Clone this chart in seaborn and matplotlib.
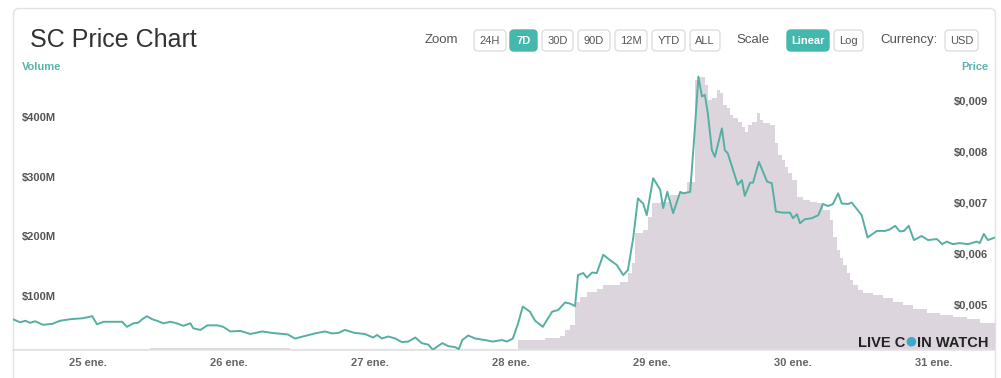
import matplotlib
matplotlib.use('Agg')
import matplotlib.pyplot as plt
import matplotlib.transforms as mtransforms
from matplotlib.patches import FancyBboxPatch, Circle
import seaborn as sns

# DATA (hours after 25 ene. 00:00)
price_hours = [-12.8, -11.6, -10.7, -9.9, -9.0, -7.7, -6.1, -4.8, -3.1, -1.9,
               -0.9, 0.7, 1.5, 2.6, 3.4, 4.9, 5.8, 6.6, 7.7, 8.5,
               9.2, 10.0, 10.9, 11.7, 12.8, 14.0, 15.1, 16.2, 17.4, 17.9,
               19.1, 20.3, 22.0, 23.0, 24.2, 25.9, 27.6, 28.9, 29.6, 31.3,
               33.0, 34.0, 35.2, 36.9, 38.6, 40.3, 41.5, 42.6, 43.7, 45.4,
               47.1, 48.5, 49.2, 50.0, 51.1, 52.3, 53.4, 54.5, 55.7, 56.8,
               57.9, 58.7, 60.3, 61.3, 62.5, 63.1, 63.7, 64.7, 65.9, 67.6,
               68.8, 70.5, 71.3, 72.3, 73.2, 74.0, 75.2, 76.1, 77.4, 79.0,
               80.0, 81.2, 82.0, 82.9, 83.4, 84.3, 84.9, 85.8, 86.6, 87.7,
               88.8, 90.0, 91.1, 91.9, 92.8, 93.6, 94.5, 95.1, 96.2, 97.4,
               97.9, 98.6, 99.6, 100.8, 101.3, 102.5, 103.2, 103.9, 104.5, 105.0,
               105.5, 106.2, 106.7, 107.9, 108.4, 108.9, 109.8, 110.6, 111.3, 111.8,
               112.7, 113.2, 114.2, 115.6, 116.4, 117.1, 118.3, 119.5, 120.0, 120.7,
               121.2, 122.0, 123.2, 124.3, 125.1, 126.0, 126.8, 127.7, 128.3, 129.4,
               130.0, 131.7, 132.7, 134.3, 135.7, 136.5, 137.4, 138.2, 138.9, 139.7,
               140.6, 141.9, 143.0, 144.5, 145.4, 146.2, 147.2, 148.4, 149.8, 151.3,
               151.8, 152.5, 153.2, 154.4]
price_usd = [0.00470, 0.00464, 0.00467, 0.00463, 0.00466, 0.00459, 0.00461, 0.00467, 0.00470, 0.00471,
             0.00472, 0.00476, 0.00460, 0.00465, 0.00465, 0.00465, 0.00465, 0.00455, 0.00462, 0.00463,
             0.00470, 0.00476, 0.00470, 0.00467, 0.00462, 0.00465, 0.00462, 0.00457, 0.00462, 0.00452,
             0.00449, 0.00458, 0.00458, 0.00455, 0.00446, 0.00447, 0.00441, 0.00444, 0.00446, 0.00443,
             0.00441, 0.00440, 0.00432, 0.00437, 0.00442, 0.00446, 0.00442, 0.00443, 0.00449, 0.00443,
             0.00441, 0.00434, 0.00439, 0.00432, 0.00436, 0.00432, 0.00425, 0.00426, 0.00434, 0.00423,
             0.00420, 0.00410, 0.00423, 0.00417, 0.00415, 0.00411, 0.00429, 0.00438, 0.00432, 0.00429,
             0.00426, 0.00429, 0.00426, 0.00432, 0.00462, 0.00495, 0.00485, 0.00467, 0.00455, 0.00485,
             0.00488, 0.00503, 0.00501, 0.00496, 0.00557, 0.00561, 0.00552, 0.00562, 0.00561, 0.00597,
             0.00587, 0.00577, 0.00557, 0.00567, 0.00630, 0.00708, 0.00698, 0.00675, 0.00748, 0.00725,
             0.00689, 0.00721, 0.00679, 0.00721, 0.00718, 0.00721, 0.00830, 0.00948, 0.00909, 0.00912,
             0.00876, 0.00803, 0.00790, 0.00846, 0.00803, 0.00797, 0.00764, 0.00735, 0.00744, 0.00713,
             0.00739, 0.00739, 0.00780, 0.00741, 0.00738, 0.00682, 0.00680, 0.00680, 0.00669, 0.00677,
             0.00659, 0.00667, 0.00669, 0.00675, 0.00697, 0.00693, 0.00697, 0.00718, 0.00698, 0.00697,
             0.00700, 0.00675, 0.00631, 0.00644, 0.00644, 0.00647, 0.00654, 0.00643, 0.00644, 0.00654,
             0.00626, 0.00634, 0.00626, 0.00628, 0.00618, 0.00623, 0.00618, 0.00620, 0.00618, 0.00623,
             0.00620, 0.00638, 0.00626, 0.00631]

volume_hours = [-12.8, 10.6, 34.4, 73.2, 77.8, 80.3, 81.2, 82.0, 82.9, 83.7,
                84.9, 86.6, 87.7, 90.6, 91.9, 92.6, 93.1, 94.5, 95.3, 96.0,
                97.4, 99.1, 100.8, 102.0, 103.3, 103.8, 105.0, 105.5, 106.2, 107.1,
                107.6, 108.1, 108.8, 109.3, 109.8, 110.6, 111.3, 111.8, 112.3, 113.0,
                113.9, 114.4, 114.9, 116.1, 116.9, 117.4, 118.1, 118.6, 119.1, 119.8,
                120.7, 121.7, 122.9, 124.1, 125.1, 126.3, 126.8, 127.5, 128.0, 128.5,
                129.2, 129.7, 130.2, 131.1, 131.9, 133.6, 135.3, 137.0, 138.7, 140.4,
                142.8, 145.0, 147.2, 149.6, 151.8, 154.4]
volume_musd = [2, 3.5, 2, 16, 20, 23.5, 33.5, 42, 81, 89,
               98, 103, 109, 114, 128.5, 145, 195.6, 201, 223, 246,
               248.5, 260, 265, 282, 452, 458, 444, 419, 422, 435,
               431, 411, 406, 394, 389, 383, 374, 366, 377, 383,
               397, 385.5, 380, 377, 347, 327, 318, 307, 297, 285,
               257, 251, 248.5, 246, 235, 218, 190, 168, 154, 142,
               129, 117, 109, 100.5, 96, 92, 87, 81, 75, 68,
               62.5, 58.7, 56, 51.5, 46, 46]

day_ticks = [0, 24, 48, 72, 96, 120, 144]
day_labels = ['25 ene.', '26 ene.', '27 ene.', '28 ene.', '29 ene.', '30 ene.', '31 ene.']
vol_ticks = [100, 200, 300, 400]
vol_labels = ['$100M', '$200M', '$300M', '$400M']
price_ticks = [0.005, 0.006, 0.007, 0.008, 0.009]
price_labels = ['$0,005', '$0,006', '$0,007', '$0,008', '$0,009']
zoom_buttons = ['24H', '7D', '30D', '90D', '12M', 'YTD', 'ALL']
scale_buttons = ['Linear', 'Log']

# STYLE
sns.set_style('white')
plt.rcParams['font.family'] = ['Liberation Sans', 'DejaVu Sans']

teal = '#56afa3'
btn_teal = '#45b8ae'
area_color = '#dcd5dd'
label_gray = '#555555'

W, H = 1001, 378
fig = plt.figure(figsize=(W / 100, H / 100), dpi=100)
pix = mtransforms.IdentityTransform()


def fx(px):
    return px / W


def fy(py):
    return 1 - py / H


# card outline (behind everything)
card = FancyBboxPatch((13.5, -20), 982, 20 + H - 8.5, boxstyle='round,pad=0,rounding_size=6',
                      transform=pix, facecolor='white',
                      edgecolor='#e2e2e2', linewidth=1, zorder=-5)
fig.patches.append(card)

ax = fig.add_axes([fx(13), fy(350), fx(995) - fx(13), fy(72) - fy(350)])
ax.patch.set_alpha(0)
ax2 = ax.twinx()

# volume area
ax.fill_between(volume_hours, volume_musd, step='post', color=area_color, linewidth=0)
ax.set_ylim(0, 466)
ax.set_xlim(-12.8, 154.4)

# price line
sns.lineplot(x=price_hours, y=price_usd, ax=ax2, color=teal, linewidth=1.4)
ax2.set_ylim(0.004094, 0.009571)

for a in (ax, ax2):
    for s in a.spines.values():
        s.set_visible(False)
ax.spines['bottom'].set_visible(True)
ax.spines['bottom'].set_color('#e3e3e3')
ax.spines['bottom'].set_linewidth(1.2)

ax.set_xticks(day_ticks, day_labels)
ax.tick_params(axis='x', length=0, pad=6, labelsize=8, labelcolor='#666666')
for lab in ax.get_xticklabels():
    lab.set_fontweight('bold')

ax.set_yticks(vol_ticks, vol_labels)
ax.tick_params(axis='y', length=0, pad=-6.5, labelsize=8, labelcolor=label_gray)
shift = mtransforms.ScaledTranslation(0, -5.5 / 100, fig.dpi_scale_trans)
for t in ax.yaxis.get_major_ticks():
    t.label1.set_horizontalalignment('left')
    t.label1.set_fontweight('bold')
    t.label1.set_transform(t.label1.get_transform() + shift)

ax2.set_yticks(price_ticks, price_labels)
ax2.tick_params(axis='y', length=0, pad=-5, labelsize=8, labelcolor=label_gray)
for t in ax2.yaxis.get_major_ticks():
    t.label2.set_horizontalalignment('right')
    t.label2.set_fontweight('bold')
ax.set_xlabel('')
ax.set_ylabel('')
ax2.set_ylabel('')
ax.grid(False)
ax2.grid(False)

# header
fig.text(fx(30), fy(40), 'SC Price Chart', fontsize=18, color='#333333', ha='left', va='center')
fig.text(fx(22), fy(67), 'Volume', fontsize=8, fontweight='bold', color='#5ab5ad', ha='left', va='center')
fig.text(fx(988), fy(67), 'Price', fontsize=8, fontweight='bold', color='#5ab5ad', ha='right', va='center')

fig.text(fx(441), fy(40), 'Zoom', fontsize=9.5, color=label_gray, ha='center', va='center')
fig.text(fx(753), fy(40), 'Scale', fontsize=9.5, color=label_gray, ha='center', va='center')
fig.text(fx(909), fy(40), 'Currency:', fontsize=9.5, color=label_gray, ha='center', va='center')


def button(x0, x1, label, active=False):
    box = FancyBboxPatch((x0, H - 51), x1 - x0, 21, boxstyle='round,pad=0,rounding_size=4',
                         transform=pix,
                         facecolor=btn_teal if active else 'white',
                         edgecolor=btn_teal if active else '#dedede', linewidth=1)
    fig.patches.append(box)
    fig.text(fx((x0 + x1) / 2), fy(40.5), label, fontsize=8,
             fontweight='bold' if active else 'normal',
             color='white' if active else label_gray, ha='center', va='center')


zoom_spans = [(474, 506), (510, 537), (542, 573), (578, 610), (615, 647), (652, 685), (690, 720)]
for (x0, x1), lab in zip(zoom_spans, zoom_buttons):
    button(x0, x1, lab, active=(lab == '7D'))
for (x0, x1), lab in zip([(787, 829), (834, 863)], scale_buttons):
    button(x0, x1, lab, active=(lab == 'Linear'))
button(945, 978, 'USD')

# watermark: "LIVE C" + teal coin + "IN WATCH", all on one baseline
base_y = H - 347
t1 = fig.text(858, base_y, 'LIVE C', fontsize=10.5, fontweight='bold', color='#222222',
              ha='left', va='baseline', zorder=6, transform=pix)
fig.canvas.draw()
bb1 = t1.get_window_extent()
coin = Circle((bb1.x1 + 6, base_y + 5.2), 4.8, transform=pix, facecolor='#3fa9c9',
              edgecolor='none', zorder=6)
fig.patches.append(coin)
fig.text(bb1.x1 + 12, base_y, 'IN WATCH', fontsize=10.5, fontweight='bold', color='#222222',
         ha='left', va='baseline', zorder=6, transform=pix)

fig.savefig('out.png', dpi=100)
